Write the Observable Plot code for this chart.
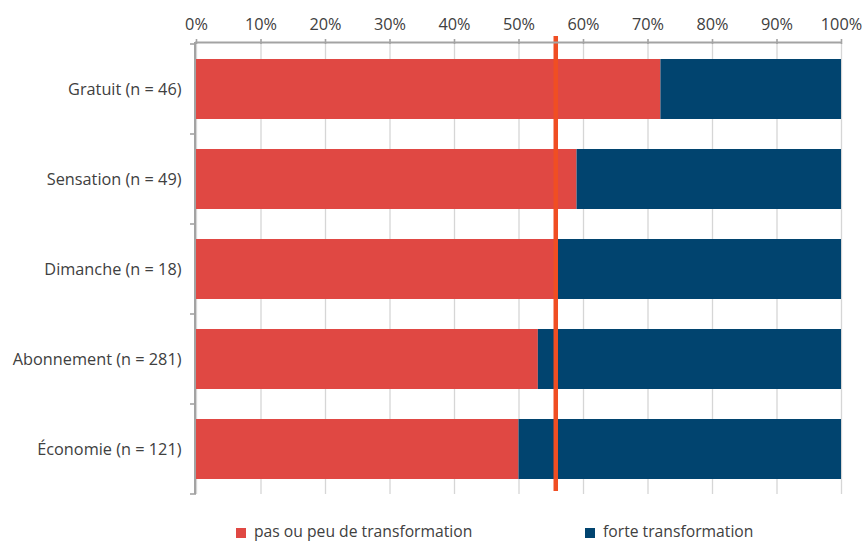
<!DOCTYPE html>
<html><head><meta charset="utf-8">
<script src="https://cdn.jsdelivr.net/npm/d3@7"></script>
<script src="https://cdn.jsdelivr.net/npm/@observablehq/plot@0.6"></script>
<style>
body{margin:0;background:#fff;font-family:"Open Sans",sans-serif;}
#wrap{position:relative;width:863px;height:543px;overflow:hidden;background:#fff}
#wrap svg{position:absolute;left:0;top:0}
.leg{position:absolute;font-size:15.7px;line-height:20px;color:#404040;white-space:nowrap}
.sw{position:absolute;width:10px;height:10px}
</style></head><body><div id="wrap"></div>
<script>
const categories = ["Gratuit (n = 46)", "Sensation (n = 49)", "Dimanche (n = 18)", "Abonnement (n = 281)", "Économie (n = 121)"];
const pasOuPeu = [72, 59, 56, 53, 50];
const forte = [28, 41, 44, 47, 50];
const moyenne = [55.7];
const series = ["pas ou peu de transformation", "forte transformation"];
const colors = ["#e04843", "#01446f"];
const xTicks = [0, 10, 20, 30, 40, 50, 60, 70, 80, 90, 100];

const data = categories.flatMap((c, i) => [
  {cat: c, serie: series[0], value: pasOuPeu[i]},
  {cat: c, serie: series[1], value: forte[i]}
]);

function axisLines(index, scales, values, dims) {
  const {x, y} = scales;
  const x0 = x(0), x1 = x(100);
  const top = dims.marginTop, bottom = dims.height - dims.marginBottom;
  const step = typeof y.step === "function" ? y.step() : (bottom - top) / categories.length;
  const bw = typeof y.bandwidth === "function" ? y.bandwidth() : step * 0.665;
  const g = d3.create("svg:g").attr("stroke", "#a3a3a3").attr("fill", "none");
  g.append("line").attr("x1", x0 - 1).attr("x2", x1).attr("y1", top - 0.5).attr("y2", top - 0.5).attr("stroke-width", 1.8);
  g.append("line").attr("x1", x0 - 1).attr("x2", x0 - 1).attr("y1", top - 1).attr("y2", bottom).attr("stroke-width", 2);
  const bounds = categories.map(c => y(c) - (step - bw) / 2);
  bounds.push(y(categories[categories.length - 1]) + bw + (step - bw) / 2);
  for (const b of bounds) {
    g.append("line").attr("x1", x0 - 6).attr("x2", x0).attr("y1", b).attr("y2", b).attr("stroke-width", 1.6);
  }
  return g.node();
}

const chart = Plot.plot({
  width: 863,
  height: 510,
  marginTop: 43,
  marginLeft: 196,
  marginRight: 22,
  marginBottom: 16,
  style: {fontFamily: "'Open Sans', sans-serif", fontSize: "16.3px", color: "#404040", background: "#fff", overflow: "visible"},
  x: {domain: [0, 100]},
  y: {domain: categories, paddingInner: 0.335, paddingOuter: 0.1675},
  color: {domain: series, range: colors},
  marks: [
    Plot.gridX(xTicks, {stroke: "#d6d6d6", strokeOpacity: 1, strokeWidth: 1.3}),
    Plot.barX(data, {x: "value", y: "cat", fill: "serie"}),
    Plot.ruleX(moyenne, {stroke: "#f04e23", strokeWidth: 4.5, insetTop: -7, insetBottom: 3}),
    Plot.axisX(xTicks, {anchor: "top", tickSize: 5, tickPadding: 9, stroke: "#a3a3a3", strokeWidth: 1.6, tickFormat: d => d + "%", label: null, fill: "#404040"}),
    Plot.axisY({tickSize: 0, tickPadding: 15, label: null, fill: "#404040"}),
    axisLines
  ]
});
const wrap = document.getElementById("wrap");
wrap.appendChild(chart);

[[0, 236], [1, 585]].forEach(([i, left]) => {
  const sw = document.createElement("div");
  sw.className = "sw";
  sw.style.left = left + "px";
  sw.style.top = "528px";
  sw.style.background = colors[i];
  wrap.appendChild(sw);
  const t = document.createElement("div");
  t.className = "leg";
  t.style.left = (left + 18) + "px";
  t.style.top = "521px";
  t.textContent = series[i];
  wrap.appendChild(t);
});
</script>
</body></html>
